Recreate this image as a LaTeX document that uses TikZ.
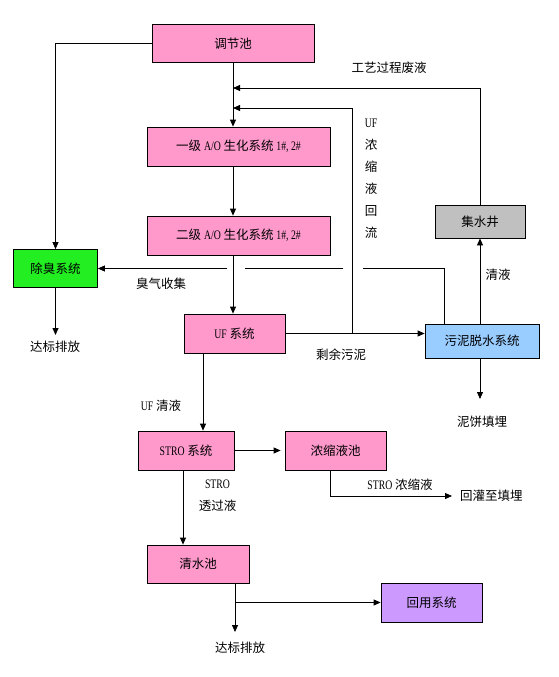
\documentclass[tikz,border=0pt]{standalone}
\usepackage{fontspec}
\setmainfont{Liberation Serif}
\newfontfamily\cjk{Noto Sans CJK SC}
\usetikzlibrary{arrows.meta}
\definecolor{pinkbox}{HTML}{FF99CC}
\definecolor{greenbox}{HTML}{22EE22}
\definecolor{bluebox}{HTML}{99CCFF}
\definecolor{graybox}{HTML}{C0C0C0}
\definecolor{purplebox}{HTML}{CC99FF}
\tikzset{
  unit/.style={draw, line width=0.8pt, inner sep=0pt, font=\cjk\fontsize{12.5}{14}\selectfont},
  lbl/.style={inner sep=0pt, font=\cjk\fontsize{12.5}{14}\selectfont},
  arr/.style={-{Triangle[length=7pt,width=6pt]}, line width=0.8pt},
  ln/.style={line width=0.8pt}
}
\newcommand{\lat}[1]{{\fontspec{Liberation Serif}\fontsize{13}{14}\selectfont\scalebox{0.75}[1]{#1}}}
\begin{document}
\begin{tikzpicture}[x=1pt, y=-1pt]

                            \useasboundingbox[fill=white] (0,0) rectangle (559,677);

                            \node[unit, fill=pinkbox, minimum width=162pt, minimum height=38pt] (tjc) at (233,43.5) {调节池};
                            \node[unit, fill=pinkbox, minimum width=183pt, minimum height=39pt] (ao1) at (238.5,146.5) {一级 \lat{A/O} 生化系统 \lat{1\#, 2\#}};
                            \node[unit, fill=pinkbox, minimum width=183pt, minimum height=39pt] (ao2) at (238.5,235.5) {二级 \lat{A/O} 生化系统 \lat{1\#, 2\#}};
                            \node[unit, fill=greenbox, minimum width=84pt, minimum height=38pt] (cc) at (55.5,268.5) {除臭系统};
                            \node[unit, fill=pinkbox, minimum width=101pt, minimum height=39pt] (uf) at (234.5,333.5) {\lat{UF} 系统};
                            \node[unit, fill=bluebox, minimum width=114pt, minimum height=34pt] (wn) at (482,341) {污泥脱水系统};
                            \node[unit, fill=graybox, minimum width=90pt, minimum height=33pt] (jsj) at (480,221.5) {集水井};
                            \node[unit, fill=pinkbox, minimum width=96pt, minimum height=39pt] (stro) at (186,450.5) {\lat{STRO} 系统};
                            \node[unit, fill=pinkbox, minimum width=101pt, minimum height=39pt] (nsc) at (335.5,450.5) {浓缩液池};
                            \node[unit, fill=pinkbox, minimum width=102pt, minimum height=38pt] (qsc) at (198,564) {清水池};
                            \node[unit, fill=purplebox, minimum width=101pt, minimum height=39pt] (hy) at (431.5,602.5) {回用系统};

                            \node[lbl] (gyfy) at (389,68) {工艺过程废液};
                            \node[lbl, align=center, font=\cjk\fontsize{12.5}{22}\selectfont] (ufhl) at (371,179) {\lat{UF}\\浓\\缩\\液\\回\\流};
                            \node[lbl] (qy) at (498,275) {清液};
                            \node[lbl] (cqsj) at (161,283.5) {臭气收集};
                            \node[lbl] (db1) at (55,347) {达标排放};
                            \node[lbl] (sywn) at (341,355) {剩余污泥};
                            \node[lbl] (nbtm) at (482,422) {泥饼填埋};
                            \node[lbl] (ufqy) at (161,406) {\lat{UF} 清液};
                            \node[lbl, align=center, font=\cjk\fontsize{12.5}{22}\selectfont] (tgy) at (217.5,496) {\lat{STRO}\\透过液};
                            \node[lbl] (strons) at (400,485) {\lat{STRO} 浓缩液};
                            \node[lbl, anchor=west] (hgtm) at (460,496) {回灌至填埋};
                            \node[lbl] (db2) at (240,648) {达标排放};

                            \coordinate (m1) at (233,88);
                            \coordinate (m2) at (233,108);
                            \coordinate (r1) at (352,333.5);
                            \coordinate (g1) at (362.5,268.5);
                            \coordinate (g2) at (343,268.5);
                            \coordinate (g3) at (245,268.5);
                            \coordinate (g4) at (227,268.5);
                            \coordinate (b1) at (235,602.5);

                            \draw[arr] (tjc.west) -| (cc.north);
                            \draw[arr] (tjc.south) -- (tjc.south |- ao1.north);
                            \draw[arr] (tjc.south |- ao1.south) -- (tjc.south |- ao2.north);
                            \draw[arr] (tjc.south |- ao2.south) -- (tjc.south |- uf.north);
                            \draw[arr] (jsj.north) |- (m1);
                            \draw[arr] (r1) |- (m2);
                            \draw[arr] (uf.east) -- (uf.east -| wn.west);
                            \draw[arr] (jsj.south |- wn.north) -- (jsj.south);
                            \draw[arr] (jsj.south |- wn.south) -- (jsj.south |- 0,399);
                            \draw[ln] ([xshift=20pt]wn.north west) |- (g1);
                            \draw[ln] (g2) -- (g3);
                            \draw[arr] (g4) -- (cc.east);
                            \draw[arr] (cc.south) -- (cc.south |- 0,335);
                            \draw[arr] (uf.south -| 203,0) -- (stro.north -| 203,0);
                            \draw[arr] (stro.east) -- ([xshift=-4pt]nsc.west);
                            \draw[arr] (nsc.south -| 330,0) |- ([xshift=-8pt]hgtm.west);
                            \draw[arr] (stro.south -| 183,0) -- (qsc.north -| 183,0);
                            \draw[arr] (qsc.south -| b1) -- (b1 |- 0,632);
                            \draw[arr] (b1) -- (hy.west);
                        \end{tikzpicture}
\end{document}
